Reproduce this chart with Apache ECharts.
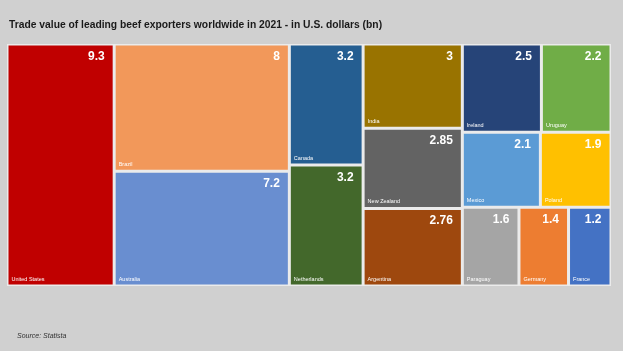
<!doctype html>
<html>
<head>
  <meta charset="utf-8">
  <script src="https://cdn.jsdelivr.net/npm/echarts@6/dist/echarts.min.js"></script>
  <style>
    html, body { margin: 0; padding: 0; background: #d0d0d0; }
    #chart { width: 623px; height: 351px; }
  </style>
</head>
<body>
  <div id="chart"></div>
  <script>
    // values in bn U.S. dollars
    var countries = ['United States', 'Brazil', 'Australia', 'Canada', 'Netherlands', 'India', 'New Zealand',
      'Argentina', 'Ireland', 'Uruguay', 'Mexico', 'Poland', 'Paraguay', 'Germany', 'France'];
    var values = [9.3, 8, 7.2, 3.2, 3.2, 3, 2.85, 2.76, 2.5, 2.2, 2.1, 1.9, 1.6, 1.4, 1.2];
    var colors = ['#c00000', '#f2985a', '#698ed0', '#255e91', '#43682b', '#997300', '#636363',
      '#9e480e', '#264478', '#70ad47', '#5b9bd5', '#ffc000', '#a5a5a5', '#ed7d31', '#4472c4'];

    // how the tiles are grouped (indexes into the arrays above), so the layout follows the original
    var groups = [0, [1, 2], [3, 4], [5, 6, 7], [[8, 9], [10, 11], [12, 13, 14]]];

    var font = '"Liberation Sans", sans-serif';
    var line = '#ebebeb';

    function build(g, ghost) {
      if (typeof g === 'number') {
        return {
          name: countries[g],
          value: values[g],
          itemStyle: {
            color: ghost ? 'rgba(0,0,0,0)' : colors[g],
            borderWidth: 1.5,
            borderColor: ghost ? 'rgba(0,0,0,0)' : line
          }
        };
      }
      return { name: '', children: g.map(function (c) { return build(c, ghost); }) };
    }

    function series(ghost) {
      return {
        type: 'treemap',
        left: 7,
        top: 44,
        width: 604,
        height: 242,
        sort: false,
        squareRatio: 0.5,
        roam: false,
        nodeClick: false,
        silent: true,
        animation: false,
        breadcrumb: { show: false },
        itemStyle: { borderWidth: 0, gapWidth: 0, borderColor: ghost ? 'rgba(0,0,0,0)' : line },
        label: ghost ? {
          show: true,
          position: 'insideTopRight',
          formatter: '{c}',
          padding: [5, 8, 0, 0],
          fontFamily: font,
          fontWeight: 'bold',
          fontSize: 12,
          color: '#fff'
        } : {
          show: true,
          position: 'insideBottomLeft',
          formatter: '{b}',
          padding: [0, 0, 2, 3],
          fontFamily: font,
          fontSize: 5.5,
          color: '#fff'
        },
        data: groups.map(function (g) { return build(g, ghost); })
      };
    }

    var myChart = echarts.init(document.getElementById('chart'));
    var option = {
      backgroundColor: '#d0d0d0',
      title: [{
        text: 'Trade value of leading beef exporters worldwide in 2021 - in U.S. dollars (bn)',
        left: 9,
        top: 20,
        padding: 0,
        textStyle: { fontFamily: font, fontWeight: 'bold', fontSize: 10.3, color: '#1a1a1a' }
      }, {
        text: 'Source: Statista',
        left: 17,
        top: 333,
        padding: 0,
        textStyle: { fontFamily: font, fontStyle: 'italic', fontWeight: 'normal', fontSize: 7, color: '#333' }
      }],
      series: [series(false), series(true)]
    };
    myChart.setOption(option);
  </script>
</body>
</html>
